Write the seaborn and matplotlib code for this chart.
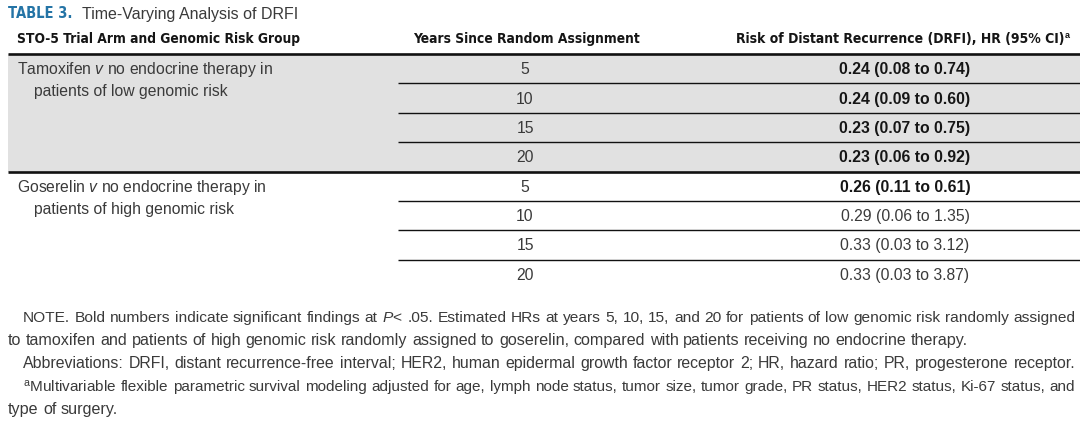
import matplotlib
matplotlib.use("Agg")
import matplotlib.pyplot as plt
import seaborn as sns
import numpy as np
import pandas as pd
from matplotlib.colors import ListedColormap
from matplotlib import font_manager as fm
from matplotlib.font_manager import FontProperties

# ---------------- data ----------------
title_label = "TABLE 3."
title_text = "Time-Varying Analysis of DRFI"
col_headers = ["STO-5 Trial Arm and Genomic Risk Group",
               "Years Since Random Assignment",
               "Risk of Distant Recurrence (DRFI), HR (95% CI)"]
group_arm = ["Tamoxifen", "Goserelin"]
group_risk = ["low", "high"]
group_index = [0, 0, 0, 0, 1, 1, 1, 1]
years = [5, 10, 15, 20, 5, 10, 15, 20]
hr = [0.24, 0.24, 0.23, 0.23, 0.26, 0.29, 0.33, 0.33]
ci_low = [0.08, 0.09, 0.07, 0.06, 0.11, 0.06, 0.03, 0.03]
ci_high = [0.74, 0.60, 0.75, 0.92, 0.61, 1.35, 3.12, 3.87]
significant = [True, True, True, True, True, False, False, False]
shaded_group = [True, False]

note_lines = [
    ("NOTE. Bold numbers indicate significant findings at $\\it{P}$< .05. Estimated HRs at years 5, 10, 15, and 20 for patients of low genomic risk randomly assigned", True, True),
    ("to tamoxifen and patients of high genomic risk randomly assigned to goserelin, compared with patients receiving no endocrine therapy.", False, False),
    ("Abbreviations: DRFI, distant recurrence-free interval; HER2, human epidermal growth factor receptor 2; HR, hazard ratio; PR, progesterone receptor.", True, True),
    ("$^{\\rm{a}}$Multivariable flexible parametric survival modeling adjusted for age, lymph node status, tumor size, tumor grade, PR status, HER2 status, Ki-67 status, and", True, True),
    ("type of surgery.", False, False),
]

# ---------------- style ----------------
W, H = 1080, 431
names = {f.name for f in fm.fontManager.ttflist}
BODY = "Liberation Sans" if "Liberation Sans" in names else "DejaVu Sans"
plt.rcParams["font.family"] = [BODY, "DejaVu Sans"]
plt.rcParams["mathtext.fontset"] = "custom"
plt.rcParams["mathtext.rm"] = BODY
plt.rcParams["mathtext.it"] = BODY + ":italic"
plt.rcParams["mathtext.bf"] = BODY + ":bold"

# look for a condensed bold face for the headers
cond_file = None
for f in fm.fontManager.ttflist:
    nm = f.name.lower()
    st = str(f.stretch).lower()
    fn = f.fname.lower()
    is_cond = ("narrow" in nm or "condensed" in nm or "condensed" in st
               or "narrow" in fn or "condensed" in fn)
    is_bold = (str(f.weight) in ("bold", "700", "semibold", "600")
               or (isinstance(f.weight, int) and f.weight >= 600))
    is_ital = "italic" in str(f.style) or "oblique" in str(f.style)
    if is_cond and is_bold and not is_ital:
        cond_file = f.fname
        break

if cond_file:
    HEAD_FP = dict(fontproperties=FontProperties(fname=cond_file, size=12.2))
    HEAD_SUP = 12.2
else:
    HEAD_FP = dict(family=[BODY], fontweight="bold", fontsize=10.4)

GRAY = "#e1e1e1"
TXT = "#3a3a3a"
DARK = "#151515"
BLUE = "#2474a6"
FS = 11.3

fig = plt.figure(figsize=(W / 100, H / 100), dpi=100)
fig.patch.set_facecolor("white")
renderer = fig.canvas.get_renderer()


def fx(px):
    return px / W


def fy(py):
    return 1 - py / H


# table body axes (rows 55..290 px, cols 8..1080 px)
ax = fig.add_axes([fx(8), fy(290), fx(1072), (290 - 55) / H])
shade = pd.DataFrame({"shade": [1 if shaded_group[g] else 0 for g in group_index]})
sns.heatmap(shade, cmap=ListedColormap(["white", GRAY]), vmin=0, vmax=1,
            cbar=False, ax=ax, xticklabels=False, yticklabels=False, linewidths=0)
ax.set_xlim(0, 1)

n = len(years)
x_years = (525 - 8) / 1072
x_hr = (905 - 8) / 1072
x_rule = (398 - 8) / 1072
x_lab = (17 - 8) / 1072
x_lab2 = (34 - 8) / 1072

# rules
ax.hlines(0, 0, 1, color="#111111", lw=1.9, clip_on=False)
for i in range(1, n):
    if group_index[i] != group_index[i - 1]:
        ax.hlines(i, 0, 1, color="#111111", lw=1.9, clip_on=False)
    else:
        ax.hlines(i, x_rule, 1, color="#111111", lw=1.0, clip_on=False)

# cells
for i in range(n):
    ax.text(x_years, i + 0.5, str(years[i]), ha="center", va="center",
            fontsize=FS, color=TXT)
    s = f"{hr[i]:.2f} ({ci_low[i]:.2f} to {ci_high[i]:.2f})"
    ax.text(x_hr, i + 0.5, s, ha="center", va="center", fontsize=FS,
            color=DARK if significant[i] else TXT,
            fontweight="bold" if significant[i] else "normal")

# group labels
for g in range(len(group_arm)):
    first = group_index.index(g)
    ax.text(x_lab, first + 0.5,
            f"{group_arm[g]} $\\it{{v}}$ no endocrine therapy in",
            ha="left", va="center", fontsize=FS, color=TXT)
    ax.text(x_lab2, first + 1.25, f"patients of {group_risk[g]} genomic risk",
            ha="left", va="center", fontsize=FS, color=TXT)


def fit_width(t, target):
    """shrink a header text so it spans the reference width"""
    w = t.get_window_extent(renderer).width
    if w > target:
        t.set_fontsize(t.get_fontsize() * target / w)


# title
t_title = fig.text(fx(8), fy(14), title_label, ha="left", va="center",
                   color=BLUE, **HEAD_FP)
fit_width(t_title, 64)
fig.text(fx(82), fy(14), title_text, ha="left", va="center",
         fontsize=11.5, color=TXT)

# column headers
h0 = fig.text(fx(17), fy(39), col_headers[0], ha="left", va="center",
              color=DARK, **HEAD_FP)
fit_width(h0, 283)
h1 = fig.text(fx(526), fy(39), col_headers[1], ha="center", va="center",
              color=DARK, **HEAD_FP)
fit_width(h1, 227)
h2 = fig.text(fx(1064), fy(39), col_headers[2], ha="right", va="center",
              color=DARK, **HEAD_FP)
fit_width(h2, 329)
fig.text(fx(1065), fy(35), "a", ha="left", va="center", fontsize=6.5,
         color=DARK, fontweight="bold")


# notes (justified)
def measure(s, fs):
    t = fig.text(0, 0, s, fontsize=fs)
    w = t.get_window_extent(renderer).width
    t.remove()
    return w


NFS = 11.6
ys = [318, 341, 364, 387, 410]
for (line, indent, justify), y in zip(note_lines, ys):
    x0 = 23 if indent else 8
    words = line.split(" ")
    fs = NFS
    # shrink if the natural line does not fit
    avail = 1075 - x0
    nat = measure(line, fs)
    if nat > avail:
        fs = fs * avail / nat * 0.995
    space_w = measure("a a", fs) - measure("aa", fs)
    texts = [fig.text(0, fy(y), w, fontsize=fs, color=TXT, ha="left", va="center")
             for w in words]
    widths = [t.get_window_extent(renderer).width for t in texts]
    if justify and len(words) > 1:
        gap = (avail - sum(widths)) / (len(words) - 1)
        gap = max(gap, 1.0)
    else:
        gap = space_w
    x = x0
    for t, w in zip(texts, widths):
        t.set_x(fx(x))
        x += w + gap

fig.savefig("out.png", dpi=100, facecolor="white")
